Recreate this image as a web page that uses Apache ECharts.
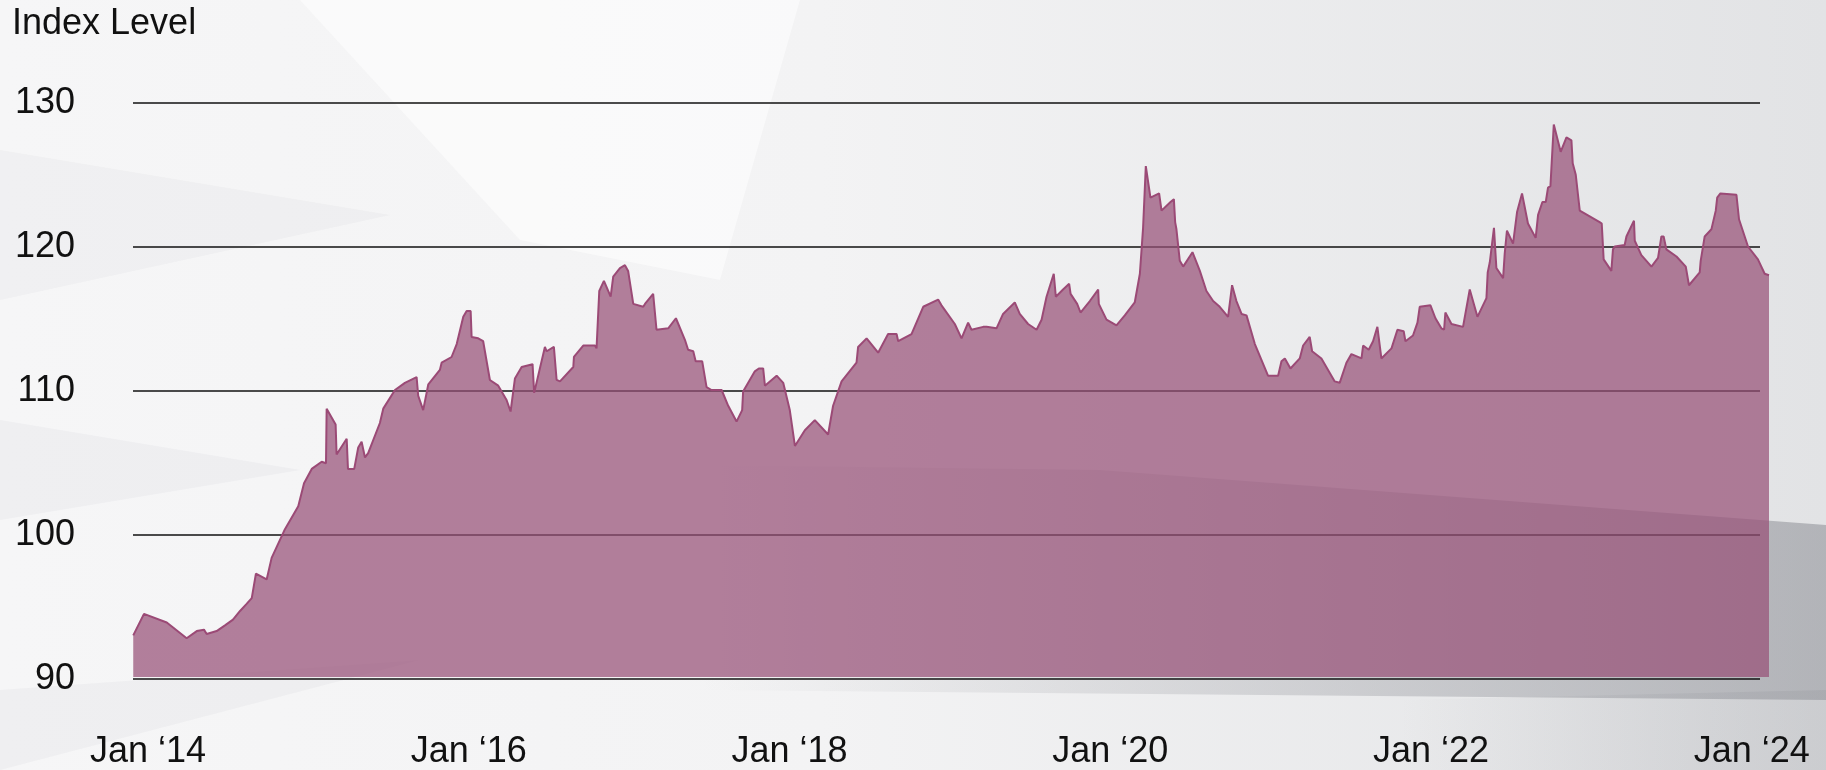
<!doctype html>
<html>
<head>
<meta charset="utf-8">
<script src="https://cdn.jsdelivr.net/npm/echarts@6.0.0/dist/echarts.min.js"></script>
<style>
html, body { margin: 0; padding: 0; }
#chart { width: 1826px; height: 770px; }
</style>
</head>
<body>
<div id="chart"></div>
<script>
// index level, x in decimal years
var years = [
  2013.908, 2013.975, 2014.117, 2014.241, 2014.304, 2014.349, 2014.366, 2014.428, 2014.480, 2014.530,
  2014.574, 2014.615, 2014.647, 2014.673, 2014.740, 2014.771, 2014.854, 2014.937, 2014.973, 2015.021,
  2015.083, 2015.110, 2015.114, 2015.170, 2015.176, 2015.239, 2015.247, 2015.286, 2015.311, 2015.332,
  2015.353, 2015.373, 2015.446, 2015.467, 2015.540, 2015.602, 2015.675, 2015.685, 2015.716, 2015.748,
  2015.820, 2015.831, 2015.893, 2015.925, 2015.966, 2015.987, 2016.012, 2016.018, 2016.059, 2016.090,
  2016.132, 2016.184, 2016.236, 2016.261, 2016.288, 2016.330, 2016.398, 2016.408, 2016.475, 2016.486,
  2016.531, 2016.548, 2016.569, 2016.652, 2016.656, 2016.714, 2016.787, 2016.797, 2016.814, 2016.843,
  2016.885, 2016.901, 2016.943, 2016.974, 2016.994, 2017.026, 2017.088, 2017.099, 2017.150, 2017.171,
  2017.244, 2017.292, 2017.348, 2017.368, 2017.400, 2017.415, 2017.456, 2017.483, 2017.514, 2017.577,
  2017.618, 2017.670, 2017.705, 2017.711, 2017.784, 2017.809, 2017.836, 2017.847, 2017.920, 2017.961,
  2018.002, 2018.034, 2018.096, 2018.158, 2018.241, 2018.272, 2018.325, 2018.418, 2018.428, 2018.481,
  2018.553, 2018.615, 2018.668, 2018.678, 2018.761, 2018.834, 2018.927, 2018.948, 2019.031, 2019.073,
  2019.114, 2019.135, 2019.208, 2019.229, 2019.291, 2019.332, 2019.405, 2019.436, 2019.488, 2019.541,
  2019.572, 2019.603, 2019.648, 2019.661, 2019.706, 2019.744, 2019.753, 2019.794, 2019.815, 2019.873,
  2019.925, 2019.929, 2019.977, 2020.039, 2020.091, 2020.153, 2020.185, 2020.205, 2020.222, 2020.251,
  2020.305, 2020.320, 2020.376, 2020.397, 2020.405, 2020.413, 2020.434, 2020.455, 2020.513, 2020.559,
  2020.600, 2020.642, 2020.683, 2020.735, 2020.760, 2020.787, 2020.819, 2020.850, 2020.902, 2020.984,
  2021.047, 2021.068, 2021.089, 2021.124, 2021.182, 2021.203, 2021.244, 2021.259, 2021.317, 2021.400,
  2021.431, 2021.473, 2021.504, 2021.567, 2021.577, 2021.612, 2021.639, 2021.666, 2021.691, 2021.754,
  2021.791, 2021.830, 2021.841, 2021.888, 2021.916, 2021.930, 2021.997, 2022.028, 2022.065, 2022.082,
  2022.090, 2022.128, 2022.200, 2022.242, 2022.290, 2022.346, 2022.354, 2022.367, 2022.393, 2022.408,
  2022.450, 2022.460, 2022.474, 2022.512, 2022.537, 2022.568, 2022.605, 2022.653, 2022.668, 2022.695,
  2022.716, 2022.730, 2022.745, 2022.766, 2022.809, 2022.845, 2022.876, 2022.884, 2022.903, 2022.928,
  2023.052, 2023.065, 2023.077, 2023.125, 2023.135, 2023.146, 2023.208, 2023.219, 2023.266, 2023.271,
  2023.312, 2023.375, 2023.416, 2023.437, 2023.451, 2023.468, 2023.531, 2023.589, 2023.609, 2023.676,
  2023.682, 2023.707, 2023.749, 2023.776, 2023.785, 2023.805, 2023.905, 2023.921, 2023.977, 2024.039,
  2024.081, 2024.108
];
var levels = [
  92.9, 94.4, 93.8, 92.7, 93.2, 93.3, 93.0, 93.2, 93.6, 94.0,
  94.6, 95.1, 95.5, 97.2, 96.8, 98.3, 100.3, 101.9, 103.5, 104.5,
  105.0, 104.9, 108.7, 107.6, 105.5, 106.6, 104.5, 104.5, 106.0, 106.4,
  105.3, 105.6, 107.7, 108.7, 110.0, 110.5, 110.9, 109.6, 108.6, 110.4,
  111.4, 111.9, 112.3, 113.2, 115.1, 115.5, 115.5, 113.7, 113.6, 113.4,
  110.7, 110.3, 109.3, 108.5, 110.8, 111.6, 111.8, 109.8, 113.0, 112.7,
  113.0, 110.7, 110.6, 111.6, 112.3, 113.1, 113.1, 112.9, 116.9, 117.6,
  116.5, 117.9, 118.5, 118.7, 118.3, 116.0, 115.8, 116.0, 116.7, 114.2,
  114.3, 115.0, 113.5, 112.8, 112.7, 112.0, 112.0, 110.2, 110.0, 110.0,
  108.9, 107.8, 108.6, 109.9, 111.3, 111.5, 111.5, 110.3, 111.0, 110.5,
  108.6, 106.1, 107.2, 107.9, 106.9, 108.9, 110.6, 111.9, 113.0, 113.6,
  112.6, 113.9, 113.9, 113.4, 113.9, 115.8, 116.3, 115.9, 114.6, 113.6,
  114.7, 114.2, 114.4, 114.4, 114.3, 115.3, 116.1, 115.3, 114.6, 114.2,
  114.9, 116.5, 118.1, 116.5, 117.0, 117.4, 116.7, 116.0, 115.4, 116.2,
  117.0, 116.0, 114.9, 114.5, 115.2, 116.1, 118.1, 121.3, 125.6, 123.4,
  123.7, 122.5, 123.1, 123.3, 121.7, 121.2, 119.0, 118.6, 119.6, 118.3,
  116.9, 116.2, 115.8, 115.1, 117.3, 116.2, 115.3, 115.2, 113.2, 111.0,
  111.0, 112.0, 112.2, 111.5, 112.2, 113.1, 113.7, 112.7, 112.2, 110.6,
  110.5, 111.9, 112.5, 112.2, 113.1, 112.8, 113.4, 114.4, 112.2, 112.9,
  114.2, 114.1, 113.4, 113.8, 114.7, 115.8, 115.9, 115.0, 114.3, 114.2,
  115.4, 114.6, 114.4, 117.0, 115.1, 116.4, 118.2, 118.9, 121.3, 118.5,
  117.8, 119.5, 121.1, 120.2, 122.4, 123.7, 121.6, 120.6, 122.2, 123.1,
  123.1, 124.1, 124.2, 128.5, 126.6, 127.6, 127.4, 125.8, 125.0, 122.5,
  121.7, 121.6, 119.1, 118.3, 119.8, 120.0, 120.1, 120.7, 121.8, 120.4,
  119.4, 118.6, 119.2, 120.7, 120.7, 119.8, 119.3, 118.6, 117.3, 118.2,
  119.0, 120.7, 121.2, 122.5, 123.4, 123.7, 123.6, 121.9, 120.0, 119.1,
  118.1, 118.0
];
var labelYears = [2014, 2016, 2018, 2020, 2022, 2024];
var yTicks = { min: 90, max: 130, step: 10 };

var seriesData = years.map(function (y, i) { return [y, levels[i]]; });

var font = "'Liberation Sans', Arial, sans-serif";
var chart = echarts.init(document.getElementById('chart'));

var option = {
  backgroundColor: new echarts.graphic.LinearGradient(0, 0, 1, 0, [
    { offset: 0, color: '#f6f6f7' },
    { offset: 0.45, color: '#f3f3f4' },
    { offset: 1, color: '#e2e3e5' }
  ]),
  animation: false,
  // soft background shards
  graphic: [
    { type: 'polygon', z: -10, silent: true, shape: { points: [[300, 0], [800, 0], [720, 280], [520, 240]] },
      style: { fill: 'rgba(255,255,255,0.5)' } },
    { type: 'polygon', z: -10, silent: true, shape: { points: [[0, 150], [390, 215], [0, 300]] },
      style: { fill: 'rgba(200,200,205,0.12)' } },
    { type: 'polygon', z: -10, silent: true, shape: { points: [[0, 420], [300, 470], [0, 520]] },
      style: { fill: 'rgba(190,190,195,0.12)' } },
    { type: 'polygon', z: -10, silent: true, shape: { points: [[0, 690], [420, 660], [0, 770]] },
      style: { fill: 'rgba(200,200,205,0.15)' } },
    { type: 'polygon', z: -10, silent: true,
      shape: { points: [[700, 465], [1100, 470], [1826, 525], [1826, 700], [700, 690]] },
      style: { fill: new echarts.graphic.LinearGradient(0, 0, 1, 0, [
        { offset: 0, color: 'rgba(120,122,130,0)' },
        { offset: 1, color: 'rgba(120,122,130,0.45)' }
      ]) } },
    { type: 'polygon', z: -10, silent: true,
      shape: { points: [[1400, 700], [1826, 690], [1826, 770], [1400, 770]] },
      style: { fill: new echarts.graphic.LinearGradient(0, 0, 1, 0, [
        { offset: 0, color: 'rgba(150,152,158,0)' },
        { offset: 1, color: 'rgba(150,152,158,0.3)' }
      ]) } }
  ],
  title: {
    text: 'Index Level',
    left: 12, top: 6, padding: 0,
    textStyle: { fontSize: 36, fontWeight: 'normal', color: '#111', fontFamily: font }
  },
  grid: [
    { left: 133, right: 66, top: 103, bottom: 91 },   // gridlines + y labels
    { left: 133, right: 57, top: 103, bottom: 91 }    // area series + x labels
  ],
  xAxis: [
    { type: 'value', gridIndex: 0, min: 0, max: 1, show: false },
    {
      type: 'value',
      gridIndex: 1,
      min: 2013.9065,
      max: 2024.108,
      axisLine: { show: false },
      axisTick: { show: false },
      splitLine: { show: false },
      axisLabel: {
        customValues: labelYears,
        formatter: function (v) { return 'Jan \u2018' + String(Math.round(v)).slice(2); },
        fontSize: 36, color: '#111', fontFamily: font, margin: 57
      }
    }
  ],
  yAxis: [
    {
      type: 'value',
      gridIndex: 0,
      min: yTicks.min, max: yTicks.max, interval: yTicks.step,
      axisLine: { show: false },
      axisTick: { show: false },
      splitLine: { lineStyle: { color: '#111', width: 1.6 } },
      axisLabel: { fontSize: 36, color: '#111', fontFamily: font, margin: 58 }
    },
    {
      type: 'value',
      gridIndex: 1,
      min: yTicks.min, max: yTicks.max, interval: yTicks.step,
      axisLine: { show: false },
      axisTick: { show: false },
      splitLine: { show: false },
      axisLabel: { show: false }
    }
  ],
  series: [{
    type: 'line',
    xAxisIndex: 1,
    yAxisIndex: 1,
    data: seriesData,
    showSymbol: false,
    symbol: 'none',
    lineStyle: { color: '#9b4a76', width: 2 },
    areaStyle: { color: 'rgba(151,81,119,0.72)', opacity: 1, origin: 'start' }
  }]
};

chart.setOption(option);
</script>
</body>
</html>
